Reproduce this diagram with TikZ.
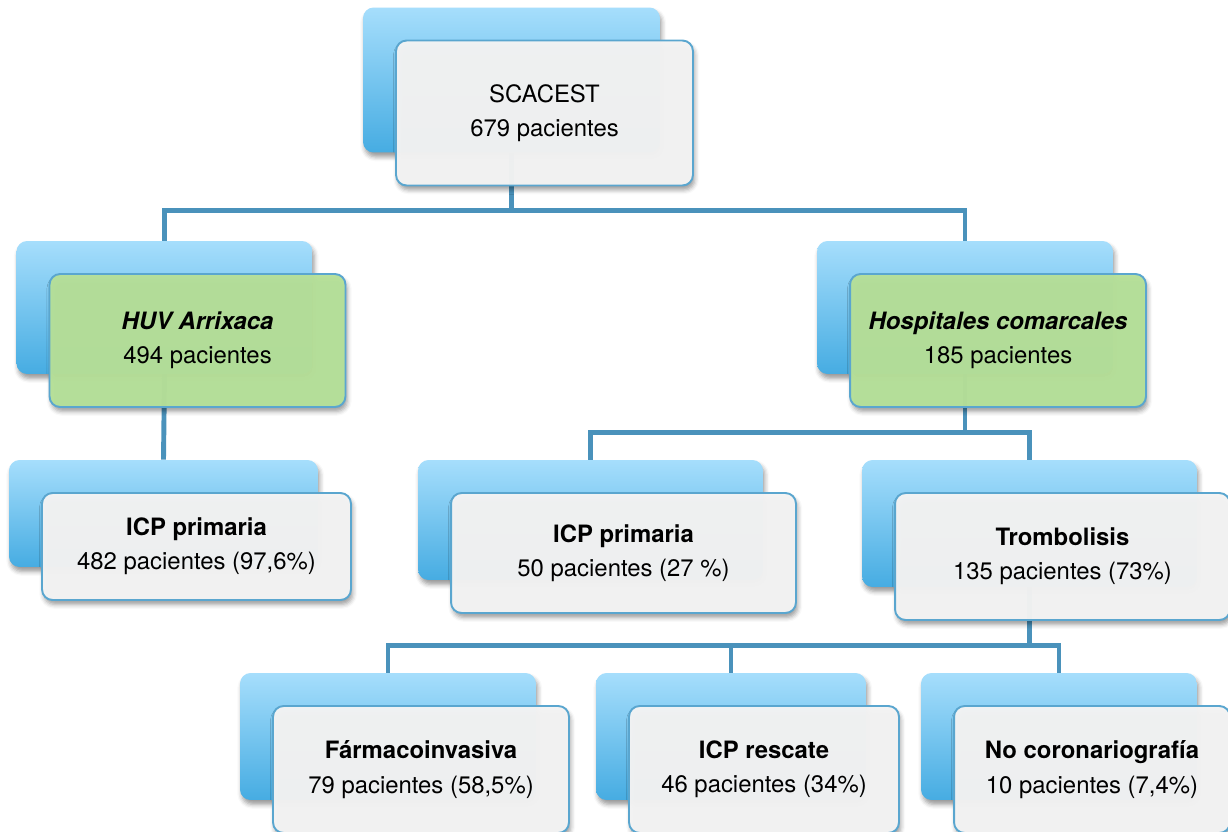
\documentclass[tikz,border=0pt]{standalone}
\usepackage{fontspec}
\setmainfont{TeX Gyre Heros}
\usetikzlibrary{backgrounds,shadows.blur}
\definecolor{linkblue}{HTML}{4A92BB}
\definecolor{edgeblue}{HTML}{5AA6CF}
\definecolor{backtop}{HTML}{A6DEFC}
\definecolor{backbot}{HTML}{46ACE2}
\definecolor{cardgray}{HTML}{F4F4F4}
\definecolor{cardgreen}{HTML}{B6E099}

\begin{document}
\begin{tikzpicture}[x=0.02cm, y=-0.02cm,
    shade/.style = {blur shadow={shadow xshift=1pt, shadow yshift=-2.5pt, shadow blur radius=2.5pt, shadow opacity=40}},
    back/.style = {shade, rounded corners=6pt, top color=backtop, bottom color=backbot, inner sep=0pt},
    card/.style = {shade, draw=edgeblue, line width=1.1pt, rounded corners=6pt, fill=cardgray, fill opacity=0.97,
                   text opacity=1, align=center, font=\fontsize{13.6}{19.5}\selectfont, inner sep=0pt},
    hosp/.style = {card, fill=cardgreen},
    link/.style = {draw=linkblue, line width=2.8pt}]
\useasboundingbox (0,0) rectangle (1228,832);

% back cards, each with its front card
\node[back, minimum width=5.94cm, minimum height=2.9cm] (scab) at (511.5,80) {};
\node[card, minimum width=5.94cm, minimum height=2.9cm] (sca) at ([shift={(33,33)}]scab) {SCACEST\\679 pacientes};
\node[back, minimum width=5.92cm, minimum height=2.66cm] (huvb) at (164.5,307.5) {};
\node[hosp, minimum width=5.92cm, minimum height=2.66cm] (huv) at ([shift={(33,33)}]huvb) {\textbf{\textit{HUV Arrixaca}}\\494 pacientes};
\node[back, minimum width=5.92cm, minimum height=2.66cm] (hospb) at (965,307.5) {};
\node[hosp, minimum width=5.92cm, minimum height=2.66cm] (hospc) at ([shift={(33,33)}]hospb) {\textbf{\textit{Hospitales comarcales}}\\185 pacientes};
\node[back, minimum width=6.18cm, minimum height=2.14cm] (icpab) at (163.5,513.5) {};
\node[card, minimum width=6.18cm, minimum height=2.14cm] (icpa) at ([shift={(33,33)}]icpab) {\textbf{ICP primaria}\\482 pacientes (97,6\%)};
\node[back, minimum width=6.9cm, minimum height=2.4cm] (icpbb) at (590.5,520) {};
\node[card, minimum width=6.9cm, minimum height=2.4cm] (icpb) at ([shift={(33,33)}]icpbb) {\textbf{ICP primaria}\\50 pacientes (27 \%)};
\node[back, minimum width=6.7cm, minimum height=2.54cm] (tromb) at (1029.5,523.5) {};
\node[card, minimum width=6.7cm, minimum height=2.54cm] (trom) at ([shift={(33,33)}]tromb) {\textbf{Trombolisis}\\135 pacientes (73\%)};
\node[back, minimum width=5.92cm, minimum height=2.54cm] (farmb) at (388,736.5) {};
\node[card, minimum width=5.92cm, minimum height=2.54cm] (farm) at ([shift={(33,33)}]farmb) {\textbf{Fármacoinvasiva}\\79 pacientes (58,5\%)};
\node[back, minimum width=5.4cm, minimum height=2.54cm] (rescb) at (731,736.5) {};
\node[card, minimum width=5.4cm, minimum height=2.54cm] (resc) at ([shift={(33,33)}]rescb) {\textbf{ICP rescate}\\46 pacientes (34\%)};
\node[back, minimum width=5.52cm, minimum height=2.54cm] (nocob) at (1059,736.5) {};
\node[card, minimum width=5.52cm, minimum height=2.54cm] (noco) at ([shift={(33,33)}]nocob) {\textbf{No coronariografía}\\10 pacientes (7,4\%)};

% connectors, behind the cards
\begin{scope}[on background layer]
  \foreach \p/\c in {scab/huvb, scab/hospb, hospb/icpbb, hospb/tromb, tromb/farmb, tromb/rescb, tromb/nocob}
    \draw[link] (\p.south) -- ++(0,58) -| (\c.north);
  \draw[link] (huvb.south) -- (icpab.north);
\end{scope}
\end{tikzpicture}
\end{document}
